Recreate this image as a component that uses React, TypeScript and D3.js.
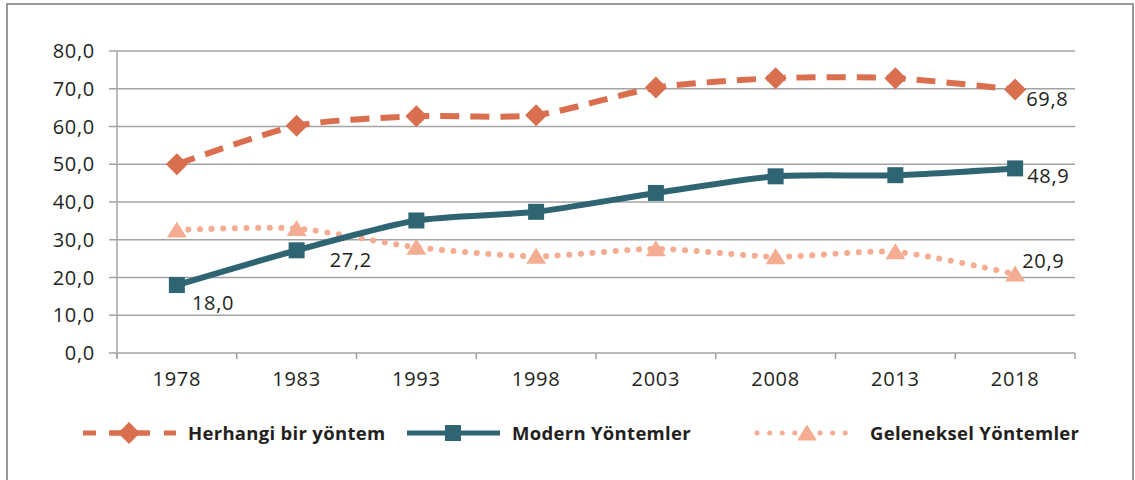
import React from "react";
import * as d3 from "d3";

const years = ["1978", "1983", "1993", "1998", "2003", "2008", "2013", "2018"];
const herhangi = [50.0, 60.2, 62.7, 63.0, 70.3, 72.8, 72.8, 69.8];
const modern = [18.0, 27.2, 35.1, 37.4, 42.4, 46.8, 47.1, 48.9];
const geleneksel = [32.6, 33.0, 28.0, 25.6, 27.6, 25.5, 26.8, 20.9];
const yTicks = [0, 10, 20, 30, 40, 50, 60, 70, 80];

const FONT = "'Open Sans', sans-serif";
const TEXT = "#231f20";
const GRID = "#a3a3a3";
const ORANGE = "#d96f4f";
const TEAL = "#2f6573";
const PEACH = "#f4ad92";

const width = 1135;
const height = 480;
const margin = { left: 117, right: 60, top: 51, bottom: 127 };

const fmt = (v: number) => v.toFixed(1).replace(".", ",");

export default function App() {
  const x = d3
    .scaleBand<string>()
    .domain(years)
    .range([margin.left, width - margin.right]);
  const y = d3
    .scaleLinear()
    .domain([0, 80])
    .range([height - margin.bottom, margin.top]);
  const cx = (d: string) => (x(d) ?? 0) + x.bandwidth() / 2;

  // smooth lines, a bit tighter than plain Catmull-Rom
  const line = d3
    .line<number>()
    .x((_, i) => cx(years[i]))
    .y((d) => y(d))
    .curve(d3.curveCardinal.tension(0.3));

  const diamond = (px: number, py: number, r: number) =>
    `M${px},${py - r}L${px + r},${py}L${px},${py + r}L${px - r},${py}Z`;
  const triangle = (px: number, py: number, s: number) =>
    `M${px},${py - s * 0.85}L${px + s},${py + s * 0.75}L${px - s},${py + s * 0.75}Z`;

  const y0 = y(0);
  const last = years.length - 1;
  const num = { fontSize: 20, letterSpacing: 0.7, fill: TEXT };
  const leg = { fontSize: 18.5, fontWeight: 700, letterSpacing: 0.3, fill: TEXT };

  return (
    <svg
      width={width}
      height={height}
      style={{ position: "absolute", left: 0, top: 0, background: "#fff" }}
      fontFamily={FONT}
    >
      {/* frame */}
      <path
        d={`M7,${height}V4H1133V${height}`}
        fill="none"
        stroke="#9a9a9a"
        strokeWidth={2}
      />

      {/* grid + y ticks */}
      {yTicks.map((t) => (
        <g key={t}>
          <line
            x1={margin.left - 8}
            x2={width - margin.right}
            y1={y(t)}
            y2={y(t)}
            stroke={GRID}
            strokeWidth={1.5}
          />
          <text x={95} y={y(t)} dy="0.36em" textAnchor="end" {...num}>
            {fmt(t)}
          </text>
        </g>
      ))}
      <line
        x1={margin.left}
        x2={margin.left}
        y1={margin.top}
        y2={y0 + 6}
        stroke={GRID}
        strokeWidth={1.5}
      />
      {years.map((yr) => (
        <g key={yr}>
          <line
            x1={x(yr) ?? 0}
            x2={x(yr) ?? 0}
            y1={y0}
            y2={y0 + 6}
            stroke={GRID}
            strokeWidth={1.5}
          />
          <text x={cx(yr)} y={386} textAnchor="middle" {...num}>
            {yr}
          </text>
        </g>
      ))}
      <line
        x1={width - margin.right}
        x2={width - margin.right}
        y1={y0}
        y2={y0 + 6}
        stroke={GRID}
        strokeWidth={1.5}
      />

      {/* Geleneksel */}
      <path
        d={line(geleneksel) ?? ""}
        fill="none"
        stroke={PEACH}
        strokeWidth={6}
        strokeDasharray="0.1 11.5"
        strokeLinecap="round"
      />
      {geleneksel.map((v, i) => (
        <path key={i} d={triangle(cx(years[i]), y(v), 10)} fill={PEACH} />
      ))}

      {/* Herhangi */}
      <path
        d={line(herhangi) ?? ""}
        fill="none"
        stroke={ORANGE}
        strokeWidth={6}
        strokeDasharray="19 11"
      />
      {herhangi.map((v, i) => (
        <path key={i} d={diamond(cx(years[i]), y(v), 11)} fill={ORANGE} />
      ))}

      {/* Modern */}
      <path
        d={line(modern) ?? ""}
        fill="none"
        stroke={TEAL}
        strokeWidth={6}
      />
      {modern.map((v, i) => (
        <rect
          key={i}
          x={cx(years[i]) - 8}
          y={y(v) - 8}
          width={16}
          height={16}
          fill={TEAL}
        />
      ))}

      {/* data labels */}
      <text x={cx(years[0]) + 15} y={y(modern[0]) + 25} {...num}>
        {fmt(modern[0])}
      </text>
      <text x={cx(years[1]) + 33} y={y(modern[1]) + 17} {...num}>
        {fmt(modern[1])}
      </text>
      <text x={cx(years[last]) + 11} y={y(herhangi[last]) + 16} {...num}>
        {fmt(herhangi[last])}
      </text>
      <text x={cx(years[last]) + 12} y={y(modern[last]) + 15} {...num}>
        {fmt(modern[last])}
      </text>
      <text x={cx(years[last]) + 7} y={y(geleneksel[last]) - 6} {...num}>
        {fmt(geleneksel[last])}
      </text>

      {/* legend */}
      <g>
        <line x1={83} x2={176} y1={433} y2={433} stroke={ORANGE} strokeWidth={5} strokeDasharray="13 14" />
        <path d={diamond(129, 433, 11)} fill={ORANGE} />
        <line x1={129 - 20} x2={129 + 20} y1={433} y2={433} stroke={ORANGE} strokeWidth={5} />
        <text x={188} y={433} dy="0.36em" {...leg}>
          Herhangi bir yöntem
        </text>

        <line x1={407} x2={500} y1={433} y2={433} stroke={TEAL} strokeWidth={5} />
        <rect x={445} y={425} width={16} height={16} fill={TEAL} />
        <text x={512} y={433} dy="0.36em" {...leg}>
          Modern Yöntemler
        </text>

        <line x1={757} x2={857} y1={433} y2={433} stroke={PEACH} strokeWidth={5} strokeDasharray="0.1 12.5" strokeLinecap="round" />
        <path d={triangle(807, 433, 10)} fill={PEACH} />
        <text x={870} y={433} dy="0.36em" {...leg}>
          Geleneksel Yöntemler
        </text>
      </g>
    </svg>
  );
}
